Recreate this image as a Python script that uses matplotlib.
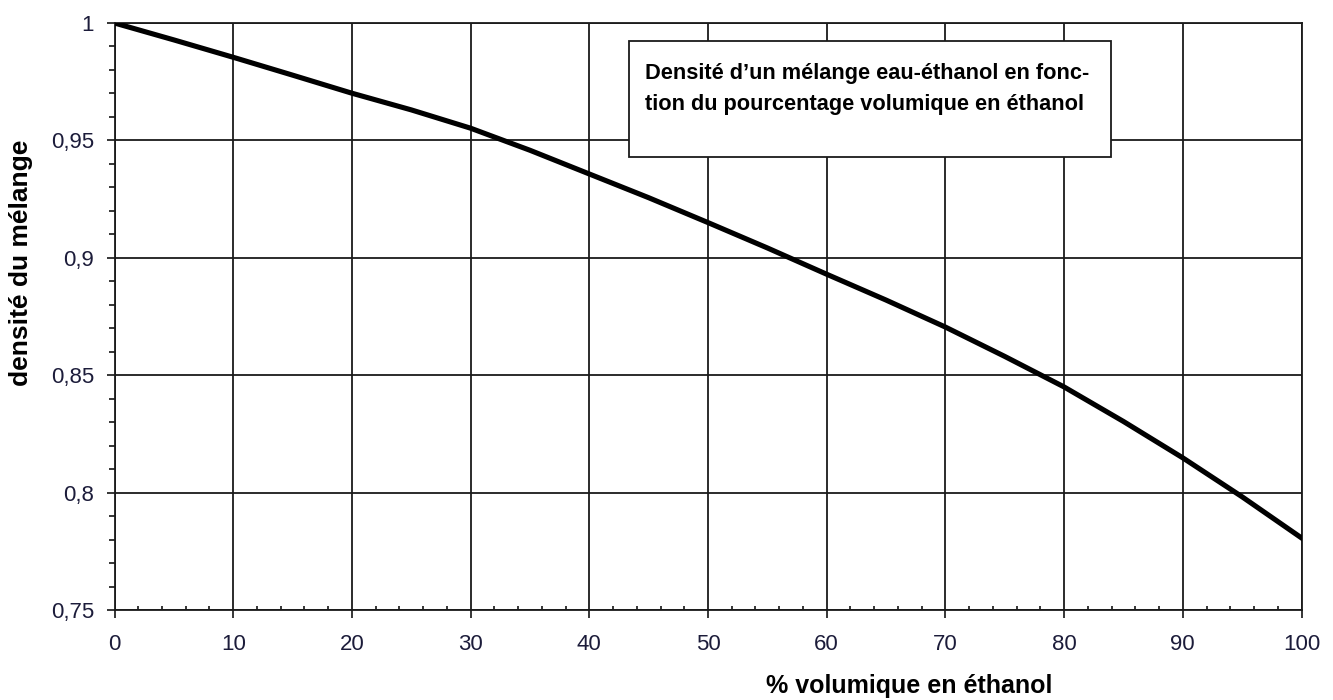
import matplotlib
matplotlib.use('Agg')
import numpy as np
import matplotlib.pyplot as plt
from matplotlib.patches import Rectangle
from matplotlib.ticker import MultipleLocator, FuncFormatter

# data
pct = [0, 5, 10, 15, 20, 25, 30, 35, 40, 45, 50,
       55, 60, 65, 70, 75, 80, 85, 90, 95, 100]
dens = [1.000, 0.9928, 0.9854, 0.9778, 0.9701, 0.9630, 0.9552, 0.9458, 0.9357, 0.9256, 0.9150,
        0.9042, 0.8930, 0.8820, 0.8705, 0.8580, 0.8450, 0.8303, 0.8148, 0.7982, 0.7807]

title1 = "Densité d\u2019un mélange eau-éthanol en fonc-"
title2 = "tion du pourcentage volumique en éthanol"
xlabel = "% volumique en éthanol"
ylabel = "densité du mélange"

plt.rcParams['font.family'] = ['Liberation Sans', 'DejaVu Sans']

fig = plt.figure(figsize=(13.33, 7), dpi=100)
ax = fig.add_axes([114.5/1333, 1-610/700, 1187/1333, 587/700])

ax.plot(pct, dens, color='black', linewidth=3.7, zorder=3)

ax.set_xlim(0, 100)
ax.set_ylim(0.75, 1.0)
ax.xaxis.set_major_locator(MultipleLocator(10))
ax.xaxis.set_minor_locator(MultipleLocator(2))
ax.yaxis.set_major_locator(MultipleLocator(0.05))
ax.yaxis.set_minor_locator(MultipleLocator(0.01))
ax.yaxis.set_major_formatter(FuncFormatter(lambda v, p: ('%g' % round(v, 2)).replace('.', ',')))

ax.grid(True, which='major', color='#1a1a1a', linewidth=1.3, zorder=1)
for s in ax.spines.values():
    s.set_linewidth(1.3)
    s.set_color('#1a1a1a')

tick_col = '#1c1c3a'
ax.tick_params(axis='x', which='major', direction='out', length=5.8, width=1.1,
               pad=11.5, labelsize=16, labelcolor=tick_col)
ax.tick_params(axis='x', which='minor', direction='in', length=3, width=1.1)
ax.tick_params(axis='y', which='major', direction='out', length=5.8, width=1.1,
               pad=9, labelsize=16, labelcolor=tick_col)
ax.tick_params(axis='y', which='minor', direction='out', length=4.5, width=1.1)

fig.text(909/1333, 1-686/700, xlabel, ha='center', va='center',
         fontsize=18, fontweight='bold')
fig.text(21/1333, 1-263/700, ylabel, ha='center', va='center', rotation=90,
         fontsize=19, fontweight='bold')

# caption box
x0 = (629-114.5)/1187
x1 = (1111-114.5)/1187
y0 = 1-(157-23)/587
y1 = 1-(41-23)/587
ax.add_patch(Rectangle((x0, y0), x1-x0, y1-y0, transform=ax.transAxes,
                       facecolor='white', edgecolor='#1a1a1a', linewidth=1.3, zorder=5))

tx_left = (645-114.5)/1187
fs_box = 15.7
ax.text(tx_left, 1-(78.5-23)/587, title1, transform=ax.transAxes,
        ha='left', va='baseline', fontsize=fs_box, fontweight='bold', zorder=6)
ax.text(tx_left, 1-(110-23)/587, title2, transform=ax.transAxes,
        ha='left', va='baseline', fontsize=fs_box, fontweight='bold', zorder=6)

fig.savefig('out.png', dpi=100)
